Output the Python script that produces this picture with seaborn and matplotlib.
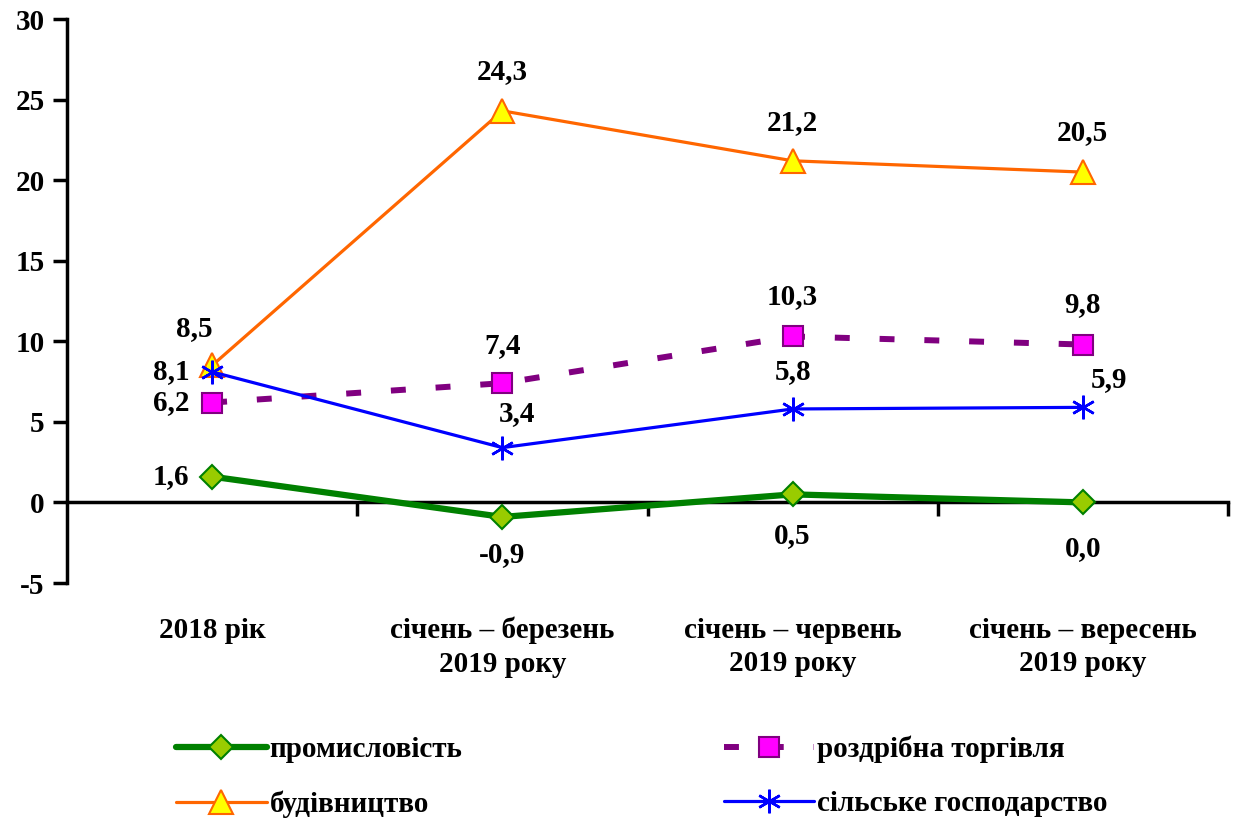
import numpy as np
import pandas as pd
import matplotlib
matplotlib.use('Agg')
import matplotlib.pyplot as plt
import seaborn as sns

periods = ['2018 рік', 'січень – березень\n2019 року', 'січень – червень\n2019 року',
           'січень – вересень\n2019 року']
industry = [1.6, -0.9, 0.5, 0.0]
retail = [6.2, 7.4, 10.3, 9.8]
construction = [8.5, 24.3, 21.2, 20.5]
agriculture = [8.1, 3.4, 5.8, 5.9]
y_ticks = [-5, 0, 5, 10, 15, 20, 25, 30]

sns.set_style('ticks')
plt.rcParams['font.family'] = ['Liberation Serif', 'DejaVu Serif']
plt.rcParams['font.weight'] = 'bold'
plt.rcParams['text.color'] = 'black'
plt.rcParams['xtick.color'] = 'black'
plt.rcParams['ytick.color'] = 'black'
plt.rcParams['xtick.labelcolor'] = 'black'
plt.rcParams['ytick.labelcolor'] = 'black'
FS = 21

df = pd.DataFrame({'pos': np.arange(len(periods)), 'industry': industry, 'retail': retail,
                   'construction': construction, 'agriculture': agriculture})

fig = plt.figure(figsize=(12.33, 8.21), dpi=100)
ax = fig.add_axes([67 / 1233, 1 - 583 / 821, (1228 - 67) / 1233, (583 - 19) / 821])

sns.lineplot(data=df, x='pos', y='industry', ax=ax, color='#008000', lw=4.5,
             marker='D', markersize=12.5, mfc='#99CC00', mec='#008000', mew=1.5,
             label='промисловість', zorder=3)
sns.lineplot(data=df, x='pos', y='retail', ax=ax, color='#800080', lw=4.3,
             linestyle=(0, (2.5, 5)), marker='s', markersize=15, mfc='#FF00FF',
             mec='#800080', mew=1.5, label='роздрібна торгівля', zorder=3)
sns.lineplot(data=df, x='pos', y='construction', ax=ax, color='#FF6600', lw=2.3,
             marker='^', markersize=17, mfc='#FFFF00', mec='#FF6600', mew=1.5,
             label='будівництво', zorder=3)
sns.lineplot(data=df, x='pos', y='agriculture', ax=ax, color='#0000FF', lw=2.3,
             marker=(6, 2, 0), markersize=17, mec='#0000FF', mew=1.8,
             label='сільське господарство', zorder=4)

def fmt(v):
    return f'{v:.1f}'.replace('.', ',')

# label offsets in pixels
offsets = {
    'industry': [(-41, 0), (0, -38), (0, -41), (0, -46)],
    'retail': [(-41, 0), (0, 38), (0, 40), (0, 40)],
    'construction': [(-18, 37), (0, 39), (0, 38), (0, 40)],
    'agriculture': [(-41, 0), (15, 34), (0, 37), (26, 28)],
}
for key in offsets:
    for i, v in enumerate(df[key]):
        ax.annotate(fmt(v), (i, v), textcoords='offset pixels', xytext=offsets[key][i],
                    ha='center', va='center', fontsize=FS, fontweight='bold', color='black')

ax.set_xlim(-0.5, len(periods) - 0.5)
ax.set_ylim(-5, 30)
ax.set_yticks(y_ticks)
ax.set_yticklabels([str(t) for t in y_ticks], fontsize=FS, fontweight='bold')
ax.set_xticks(np.arange(len(periods)) + 0.5)
ax.set_xticklabels([])
ax.spines['bottom'].set_position(('data', 0))
for s in ['top', 'right']:
    ax.spines[s].set_visible(False)
for s in ['bottom', 'left']:
    ax.spines[s].set_linewidth(2.5)
    ax.spines[s].set_color('black')
ax.tick_params(axis='both', length=10, width=2.5, color='black', labelcolor='black',
               direction='out')
ax.tick_params(axis='y', pad=6)
ax.set_xlabel('')
ax.set_ylabel('')

for i, p in enumerate(periods):
    ax.text(i, -0.06, p, transform=ax.get_xaxis_transform(), ha='center', va='top',
            fontsize=FS, fontweight='bold', linespacing=1.3, color='black')

handles, labels = ax.get_legend_handles_labels()
ax.get_legend().remove()
order = [0, 2, 1, 3]
fig.legend([handles[i] for i in order], [labels[i] for i in order], ncol=2,
           loc='upper left', bbox_to_anchor=(150 / 1233, 1 - 709 / 821), frameon=False,
           prop={'size': FS, 'weight': 'bold'}, handlelength=3.1, columnspacing=8.95,
           labelspacing=0.95, handletextpad=0.1, borderpad=0.4, labelcolor='black')

fig.savefig('out.png', dpi=100)
